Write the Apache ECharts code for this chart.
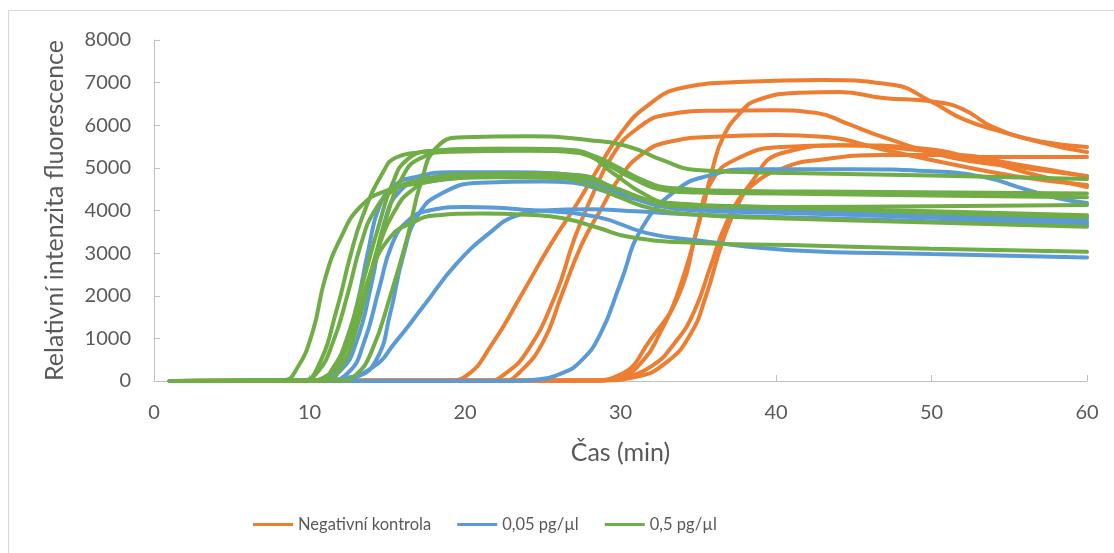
<!DOCTYPE html>
<html>
<head>
<meta charset="utf-8">
<script src="https://cdn.jsdelivr.net/npm/echarts@6/dist/echarts.min.js"></script>
<style>html,body{margin:0;padding:0;background:#fff}#c{width:1114px;height:553px}</style>
</head>
<body>
<div id="c"></div>
<script>
// ---- Data (time in min, relative fluorescence) ----
const groupNames = ['Negativní kontrola', '0,05 pg/µl', '0,5 pg/µl'];
const groupColors = ['#ED7D31', '#5B9BD5', '#70AD47'];
const xTicks = [0, 10, 20, 30, 40, 50, 60];
const yTicks = [0, 1000, 2000, 3000, 4000, 5000, 6000, 7000, 8000];

// Negativní kontrola
const neg1 = [[1,0],[19,10],[20,100],[21.8,900],[23.6,2000],[25.5,3200],[27.1,4100],[28.5,4950],[30,5800],[31.7,6450],[34,6880],[38,7020],[43,7060],[47.5,6950],[50,6550],[52,6150],[54.5,5850],[57,5620],[60,5490]];
const neg2 = [[1,0],[21.5,10],[22.5,150],[24,700],[25.8,2000],[27,3300],[28,4200],[29.5,5300],[31,5900],[33,6250],[36,6340],[40,6350],[42.6,6290],[44.5,6050],[46.9,5720],[51.2,5250],[55.5,5020],[60,4810]];
const neg3 = [[1,0],[22.5,10],[23.5,200],[25,900],[26.2,2000],[27.5,3200],[28.7,4000],[30,4800],[31.5,5350],[33,5600],[36,5730],[40,5770],[43,5730],[47,5420],[51,5110],[55.5,4800],[60,4600]];
const neg4 = [[1,0],[28,10],[30,100],[31.5,500],[32.5,1100],[33.6,1970],[35.1,3780],[35.9,4950],[36.6,5720],[37.7,6290],[38.8,6590],[41.5,6760],[44.1,6780],[46.9,6640],[50,6560],[52,6380],[54,5950],[57,5600],[60,5370]];
const neg5 = [[1,0],[28,10],[30,150],[31.9,960],[33.8,2060],[34.9,3540],[35.9,4710],[37.7,5250],[40.4,5490],[44.1,5530],[49,5420],[53.3,5254],[60,5254]];
const neg6 = [[1,0],[28,10],[30,80],[32,350],[33.5,900],[34.7,1600],[35.8,2700],[36.8,3700],[38.3,4600],[40.4,5350],[44.6,5530],[48.9,5470],[53.2,5180],[56.5,4850],[60,4550]];
const neg7 = [[1,0],[28.5,10],[31,100],[33,450],[34.5,1100],[35.5,2000],[36.5,3200],[37.5,4100],[38.5,4600],[40.5,5000],[42.6,5180],[46.9,5300],[51.2,5300],[55.5,5080],[60,4800]];

// 0,05 pg/µl
const low1 = [[1,0],[10,0],[11,80],[12,450],[13,1700],[13.8,3100],[14.5,4100],[15.5,4600],[17,4800],[19,4900],[23,4900],[26,4870],[28,4700],[30,4420],[32,4150],[35,4000],[40,3950],[50,3850],[60,3750]];
const low2 = [[1,0],[10.5,0],[12,250],[13,900],[14,2300],[14.8,3700],[15.8,4450],[17.5,4750],[20,4820],[25,4820],[28,4650],[31,4300],[34,4100],[40,4000],[50,3900],[60,3820]];
const low3 = [[1,0],[11,0],[13,100],[14.3,500],[15.2,1600],[16,2900],[17,3900],[18.5,4400],[21,4650],[25,4680],[27,4650],[29,4450],[32,4200],[36,4050],[45,3900],[60,3700]];
const low4 = [[1,0],[11,0],[12.5,200],[13.5,900],[14.5,2200],[15.3,3200],[16.3,3750],[17.7,4000],[20,4080],[24.2,4010],[28.5,3850],[31.7,3470],[34.9,3300],[40.9,3070],[50,2980],[60,2900]];
const low5 = [[1,0],[10,0],[12,50],[14.1,330],[15.5,900],[17.3,1740],[19.5,2770],[21.8,3540],[23.1,3850],[25,4000],[28,4030],[31,3980],[35,3900],[40,3850],[50,3750],[60,3650]];
const low6 = [[1,0],[23,0],[24.5,30],[26,150],[27.4,450],[28.7,1100],[30,2300],[31.4,3600],[33.6,4480],[35.8,4830],[38.3,4970],[45,4970],[50,4920],[53.3,4790],[56,4500],[58,4300],[60,4175]];

// 0,5 pg/µl
const high1 = [[1,0],[8.3,20],[9.2,300],[10.2,1150],[11,2400],[12,3350],[13.3,4100],[15,4470],[17.3,4650],[20,4780],[24,4800],[27,4780],[29.5,4550],[31.7,4250],[33.8,4100],[38,4080],[50,3980],[60,3890]];
const high2 = [[1,0],[9.5,10],[10.5,200],[11.5,900],[12.5,2100],[13.3,3200],[14.2,4000],[15.5,4500],[17.5,4750],[20,4850],[25,4870],[27.4,4830],[29.5,4550],[31.7,4250],[33.8,4120],[38,4100],[50,3950],[60,3850]];
const high3 = [[1,0],[9.5,10],[10.5,300],[11.8,1740],[12.6,2900],[13.4,3850],[14.7,4880],[15.6,5250],[17.3,5370],[20,5440],[24,5450],[26.8,5420],[28.5,5250],[29.8,5020],[31.4,4720],[33.2,4530],[38,4460],[45,4440],[60,4400]];
const high4 = [[1,0],[10.5,10],[11.5,300],[12.5,1100],[13.5,2400],[14.5,3700],[15.3,4600],[16.3,5200],[18,5400],[22,5450],[26,5430],[27.4,5350],[29,5100],[30.8,4750],[32.5,4500],[35,4420],[40,4400],[50,4350],[60,4310]];
const high5 = [[1,0],[11,10],[12,300],[13,1200],[14,2600],[15,3900],[16,4800],[17,5200],[19,5380],[24,5400],[27.4,5350],[29.5,4880],[31.4,4410],[33.2,4175],[40.9,4080],[50,4100],[60,4130]];
const high6 = [[1,0],[12,10],[13,150],[14,700],[15.2,2000],[16.3,3380],[17.2,4700],[18.2,5490],[19.9,5720],[24,5740],[28,5650],[30.6,5490],[32.7,5180],[34.9,4950],[40.9,4880],[50,4820],[60,4740]];
const high7 = [[1,0],[10.5,10],[11.5,250],[12.5,900],[13.5,2000],[14.5,3200],[15.5,4000],[16.5,4450],[18,4700],[22,4780],[26,4760],[28,4600],[30,4300],[32,4050],[35,3900],[40,3820],[50,3720],[60,3620]];
const high8 = [[1,0],[10,10],[11,100],[12,500],[13,1400],[13.9,2500],[15.2,3380],[16.7,3730],[18,3880],[21,3930],[24,3900],[26.3,3820],[28.5,3600],[30.6,3380],[34.9,3240],[40.9,3190],[50,3100],[60,3030]];

const groups = [
  [neg1, neg2, neg3, neg4, neg5, neg6, neg7],
  [low1, low2, low3, low4, low5, low6],
  [high1, high2, high3, high4, high5, high6, high7, high8]
];

const textColor = '#595959';
const axisColor = '#BFBFBF';
const fontFamily = 'Lato, "Open Sans", sans-serif';

const series = [];
groups.forEach((curves, gi) => {
  curves.forEach(curve => {
    series.push({
      name: groupNames[gi],
      type: 'line',
      data: curve,
      smooth: 0.5,
      showSymbol: false,
      symbol: 'none',
      lineStyle: { color: groupColors[gi], width: 4, cap: 'round', join: 'round' },
      itemStyle: { color: groupColors[gi] },
      emphasis: { disabled: true },
      silent: true
    });
  });
});

const chart = echarts.init(document.getElementById('c'), null, { renderer: 'canvas' });
chart.setOption({
  animation: false,
  backgroundColor: '#fff',
  textStyle: { fontFamily: fontFamily },
  graphic: [{
    type: 'rect',
    shape: { x: 8.5, y: 10.5, width: 1300, height: 700 },
    style: { fill: 'none', stroke: '#D9D9D9', lineWidth: 1 },
    silent: true, z: -1
  }],
  grid: { left: 154, right: 27, top: 40, bottom: 172, containLabel: false },
  legend: {
    data: groupNames.map(n => ({ name: n })),
    left: 248, top: 511,
    icon: 'rect', itemWidth: 40, itemHeight: 3, itemGap: 26,
    textStyle: { color: textColor, fontSize: 16.5, fontFamily: fontFamily }
  },
  xAxis: {
    type: 'value', min: xTicks[0], max: xTicks[xTicks.length - 1], interval: 10,
    name: 'Čas (min)', nameLocation: 'middle', nameGap: 59,
    nameTextStyle: { color: textColor, fontSize: 25, fontFamily: fontFamily },
    axisLine: { show: true, lineStyle: { color: axisColor, width: 1 } },
    axisTick: { show: true, inside: true, length: 6, lineStyle: { color: axisColor } },
    axisLabel: { color: textColor, fontSize: 20, margin: 22, fontFamily: fontFamily },
    splitLine: { show: false }
  },
  yAxis: {
    type: 'value', min: yTicks[0], max: yTicks[yTicks.length - 1], interval: 1000,
    name: 'Relativní intenzita fluorescence', nameLocation: 'middle', nameGap: 87,
    nameTextStyle: { color: textColor, fontSize: 25, fontFamily: fontFamily },
    axisLine: { show: true, lineStyle: { color: axisColor, width: 1 } },
    axisTick: { show: true, inside: true, length: 6, lineStyle: { color: axisColor } },
    axisLabel: { color: textColor, fontSize: 20, margin: 23, fontFamily: fontFamily, formatter: v => String(v) },
    splitLine: { show: false }
  },
  series: series
});
</script>
</body>
</html>
